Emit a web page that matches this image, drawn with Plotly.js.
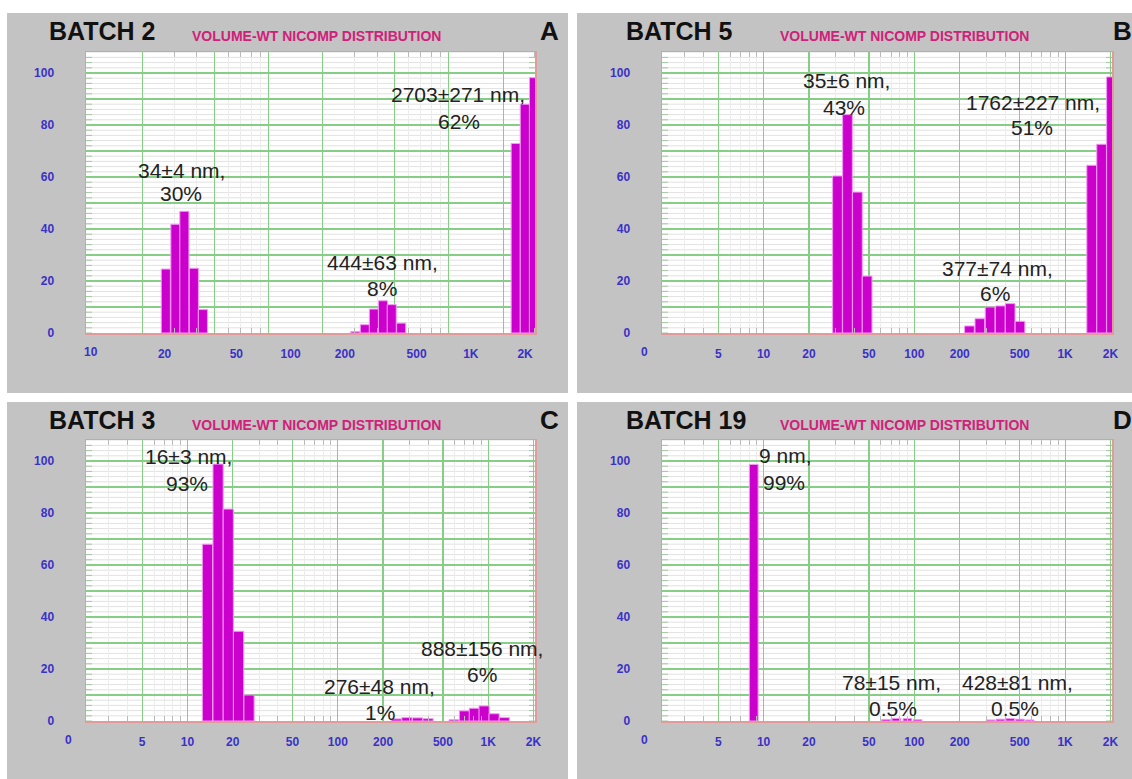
<!DOCTYPE html>
<html>
<head>
<meta charset="utf-8">
<script src="https://cdn.plot.ly/plotly-3.0.1.min.js"></script>
<style>html,body{margin:0;padding:0;background:#fff;}#chart{width:1132px;height:779px;}</style>
</head>
<body>
<div id="chart"></div>
<script>
// ---------- DATA (particle diameter in nm, volume-weighted %) ----------
const A_size = [26.9, 30.4, 34.1, 38.5, 43.2, 303, 342, 384, 431, 482, 544, 2350, 2640, 2970];
const A_vol  = [24.6, 41.8, 46.8, 24.9, 9.0, 0.6, 3.2, 9.2, 12.4, 10.9, 3.8, 72.9, 88.0, 98.2];

const B_size = [30.9, 36.0, 41.9, 48.6, 232, 272, 318, 372, 432, 502, 1500, 1746, 2030];
const B_vol  = [60.4, 84.0, 54.2, 21.9, 2.7, 5.5, 10.0, 10.4, 11.3, 4.5, 64.5, 72.6, 98.5];

const C_size = [13.6, 16.0, 18.7, 21.9, 25.7, 245, 288, 339, 398, 593, 695, 808, 939, 1094, 1279];
const C_vol  = [68.0, 98.8, 81.5, 34.5, 10.0, 0.8, 1.3, 1.2, 0.9, 0.5, 3.9, 4.9, 5.8, 2.8, 1.3];

const D_size = [8.6, 65, 76, 90, 105, 321, 372, 432, 501, 582];
const D_vol  = [98.7, 0.6, 1.0, 0.9, 0.5, 0.4, 0.7, 0.9, 0.7, 0.4];

const batchTitles = ["BATCH 2", "BATCH 5", "BATCH 3", "BATCH 19"];
const panelLetters = ["A", "B", "C", "D"];
const subTitle = "VOLUME-WT NICOMP DISTRIBUTION";

const A_ticks = [20, 50, 100, 200, 500, 1000, 2000];
const A_tickText = ["20", "50", "100", "200", "500", "1K", "2K"];
const BCD_ticks = [5, 10, 20, 50, 100, 200, 500, 1000, 2000];
const BCD_tickText = ["5", "10", "20", "50", "100", "200", "500", "1K", "2K"];
const yTicks = [0, 10, 20, 30, 40, 50, 60, 70, 80, 90, 100];
const yTickText = ["0", "", "20", "", "40", "", "60", "", "80", "", "100"];

// peak labels: [text line, x (nm), y (%)]
const A_labels = [["34±4 nm,", 32.7, 62.4], ["30%", 32.7, 53.5],
                  ["444±63 nm,", 428, 27.2], ["8%", 424, 17.3],
                  ["2703±271 nm,", 1120, 91.7], ["62%", 1135, 81.2]];
const B_labels = [["35±6 nm,", 35.2, 97.2], ["43%", 34.3, 86.9],
                  ["1762±227 nm,", 611, 88.8], ["51%", 603, 79.2],
                  ["377±74 nm,", 357, 24.7], ["6%", 344, 15.1]];
const C_labels = [["16±3 nm,", 10.1, 101.7], ["93%", 10.0, 91.5],
                  ["276±48 nm,", 188, 13.1], ["1%", 191, 3.2],
                  ["888±156 nm,", 910, 27.8], ["6%", 910, 17.8]];
const D_labels = [["9 nm,", 14.0, 102], ["99%", 13.6, 91.8],
                  ["78±15 nm,", 70, 14.9], ["0.5%", 72, 4.9],
                  ["428±81 nm,", 481, 14.9], ["0.5%", 468, 4.9]];

// ---------- STYLE / GEOMETRY ----------
const W = 1132, H = 779;
const px = v => v / W;
const py = v => 1 - v / H;
const lg = v => Math.log10(v);

const yRange = [0, 108];
const pxPerUnit = 2.6;
const plotH = (yRange[1] - yRange[0]) * pxPerUnit;
const plots = [
  {x0: 86, x1: 535, y1: 333},
  {x0: 662, x1: 1112, y1: 333},
  {x0: 86, x1: 535, y1: 721},
  {x0: 662, x1: 1112, y1: 721}
];
plots.forEach(p => { p.y0 = p.y1 - plotH; });
const panels = [
  {x0: 7, x1: 568, y0: 13, y1: 393},
  {x0: 577, x1: 1132, y0: 13, y1: 393},
  {x0: 7, x1: 568, y0: 402, y1: 779},
  {x0: 577, x1: 1132, y0: 402, y1: 779}
];
const xRanges = [[0.987, 3.478], [0.326, 3.311], [0.326, 3.311], [0.326, 3.311]];
const barWidths = [0.0505, 0.0644, 0.0677, 0.058];

const magenta = "#cc00cc";
const green = "#86ce86";
const minorGrid = "#e2e2e2";
const combColor = "#a3c8a3";
const tickBlue = "#3a31c6";
const FONT = "Liberation Sans, Arial, Helvetica, sans-serif";

function minorX(lo, hi) {
  const out = [];
  for (let d = 1; d <= 10000; d *= 10) {
    for (const m of [3, 4, 6, 7, 8, 9]) {
      const v = m * d;
      if (lg(v) > lo && lg(v) < hi) out.push(lg(v));
    }
  }
  return out;
}
const yMinor = [];
for (let v = 2; v < 108; v += 2) if (v % 10 !== 0) yMinor.push(v);

const sizes = [A_size, B_size, C_size, D_size];
const vols = [A_vol, B_vol, C_vol, D_vol];
const labelSets = [A_labels, B_labels, C_labels, D_labels];

const traces = [];
const layout = {
  width: W, height: H,
  margin: {l: 0, r: 0, t: 0, b: 0, pad: 0},
  paper_bgcolor: "#ffffff",
  plot_bgcolor: "rgba(0,0,0,0)",
  showlegend: false,
  barmode: "overlay",
  font: {family: FONT},
  shapes: [],
  annotations: []
};

for (let i = 0; i < 4; i++) {
  const n = i === 0 ? "" : String(i + 1);
  const xa = "x" + n, ya = "y" + n;
  const p = plots[i], pn = panels[i];

  traces.push({
    type: "bar",
    x: sizes[i].map(lg),
    y: vols[i],
    width: barWidths[i],
    xaxis: xa, yaxis: ya,
    marker: {color: magenta, line: {color: "#f29af2", width: 1}},
    hoverinfo: "skip"
  });

  const isA = i === 0;
  const tv = isA ? A_ticks : BCD_ticks;
  const tt = isA ? A_tickText : BCD_tickText;
  layout["xaxis" + n] = {
    domain: [px(p.x0), px(p.x1)],
    range: xRanges[i],
    anchor: ya,
    type: "linear",
    tickmode: "array",
    tickvals: tv.map(lg),
    ticktext: tt,
    ticks: "",
    ticklabelshift: isA ? 22 : 0,
    ticklabelstandoff: 9,
    tickfont: {family: FONT, size: 12, color: tickBlue, weight: "bold"},
    showgrid: true, gridcolor: green, gridwidth: 1.2,
    zeroline: false,
    showline: true, linecolor: "#e39a9a", linewidth: 1.5, mirror: "allticks",
    minor: {tickmode: "array", tickvals: minorX(xRanges[i][0], xRanges[i][1]),
            showgrid: true, gridcolor: "#ececec", gridwidth: 1,
            ticks: "inside", ticklen: 5, tickcolor: "#b9b9b9", tickwidth: 1},
    fixedrange: true
  };
  layout["yaxis" + n] = {
    domain: [py(p.y1), py(p.y0)],
    range: yRange,
    anchor: xa,
    tickmode: "array",
    tickvals: yTicks,
    ticktext: yTickText,
    ticks: "",
    ticklabelstandoff: 28,
    tickfont: {family: FONT, size: 12, color: tickBlue, weight: "bold"},
    showgrid: true, gridcolor: green, gridwidth: 1.2,
    zeroline: false,
    showline: true, linecolor: "#e39a9a", linewidth: 1.5, mirror: true,
    fixedrange: true
  };

  // gray panel and white plot area
  layout.shapes.push({type: "rect", xref: "paper", yref: "paper", layer: "below",
    x0: px(pn.x0), x1: px(pn.x1), y0: py(pn.y1), y1: py(pn.y0),
    fillcolor: "#c3c3c3", line: {width: 0}});
  layout.shapes.push({type: "rect", xref: xa + " domain", yref: ya + " domain", layer: "below",
    x0: 0, x1: 1, y0: 0, y1: 1, fillcolor: "#ffffff", line: {width: 0}});
  // faint horizontal grid every 2 units and small comb ticks on both side edges
  const combLen = 6 / (p.x1 - p.x0);
  for (const v of yMinor) {
    layout.shapes.push({type: "line", xref: xa + " domain", yref: ya, layer: "below",
      x0: 0, x1: 1, y0: v, y1: v, line: {color: minorGrid, width: 1}});
  }
  for (const v of yMinor.concat(yTicks)) {
    layout.shapes.push({type: "line", xref: xa + " domain", yref: ya, layer: "below",
      x0: 0, x1: combLen, y0: v, y1: v, line: {color: combColor, width: 1}});
    layout.shapes.push({type: "line", xref: xa + " domain", yref: ya, layer: "below",
      x0: 1 - combLen, x1: 1, y0: v, y1: v, line: {color: combColor, width: 1}});
  }

  // titles
  layout.annotations.push({xref: "paper", yref: "paper", x: px(pn.x0 + (i % 2 ? 47 : 40)), y: py(pn.y0 + 18),
    xanchor: "left", yanchor: "middle", showarrow: false, text: batchTitles[i],
    font: {family: FONT, size: 25, color: "#111111", weight: "bold"}});
  layout.annotations.push({xref: "paper", yref: "paper", x: px(pn.x0 + (i % 2 ? 201 : 183)), y: py(pn.y0 + 23),
    xanchor: "left", yanchor: "middle", showarrow: false, text: subTitle,
    font: {family: FONT, size: 14, color: "#d0207a", weight: "bold"}});
  layout.annotations.push({xref: "paper", yref: "paper",
    x: px(i % 2 ? pn.x0 + 534 : pn.x0 + 531), y: py(pn.y0 + 18),
    xanchor: "left", yanchor: "middle", showarrow: false, text: panelLetters[i],
    font: {family: FONT, size: 26, color: "#111111", weight: "bold"}});

  // left-edge axis label ("10" in A, "0" in B, C, D)
  layout.annotations.push({xref: "paper", yref: "paper",
    x: px(isA ? p.x0 + 5 : p.x0 - 18), y: py(p.y1 + 19),
    xanchor: "center", yanchor: "middle", showarrow: false, text: isA ? "10" : "0",
    font: {family: FONT, size: 12, color: tickBlue, weight: "bold"}});

  // peak labels
  for (const [txt, xv, yv] of labelSets[i]) {
    layout.annotations.push({xref: xa, yref: ya, x: lg(xv), y: yv,
      xanchor: "center", yanchor: "middle", showarrow: false, text: txt,
      font: {family: FONT, size: 21, color: "#222222"}});
  }
}

Plotly.newPlot("chart", traces, layout, {displayModeBar: false, staticPlot: true});
</script>
</body>
</html>
